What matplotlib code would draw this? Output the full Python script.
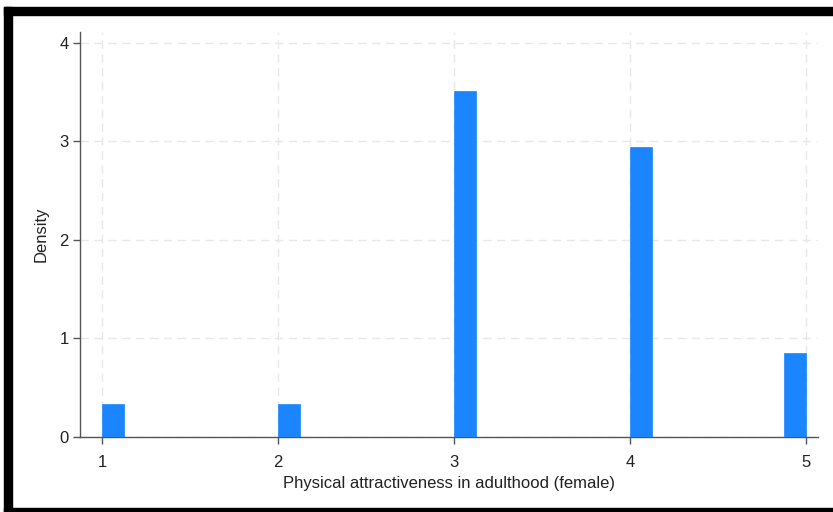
import numpy as np
import matplotlib.pyplot as plt
from matplotlib.patches import Rectangle

plt.rcParams['font.family'] = ['Liberation Sans', 'DejaVu Sans']

# Histogram bins (width 0.125) and their densities
bin_left = [1.0, 2.0, 3.0, 4.0, 4.875]
density = [0.335, 0.335, 3.51, 2.94, 0.85]
bin_width = 0.125

xticks = [1, 2, 3, 4, 5]
yticks = [0, 1, 2, 3, 4]

fig = plt.figure(figsize=(8.33, 5.12), dpi=100)
ax = fig.add_axes([80 / 833, (512 - 437) / 512, (818 - 80) / 833, (437 - 32) / 512])

ax.bar(bin_left, density, width=bin_width, align='edge', color='#1a85ff',
       edgecolor='#1a85ff', linewidth=0.5, zorder=3)

ax.set_xlim(0.875, 5.07)
ax.set_ylim(0, 4.11)
ax.set_xticks(xticks)
ax.set_yticks(yticks)
ax.grid(True, color='#e8e8e8', linestyle=(0, (6, 4)), linewidth=1, zorder=0)

for s in ['top', 'right']:
    ax.spines[s].set_visible(False)
for s in ['left', 'bottom']:
    ax.spines[s].set_color('#555555')
    ax.spines[s].set_linewidth(1)

ax.tick_params(axis='both', colors='#555555', labelcolor='#222222',
               labelsize=12, length=5, width=1)
ax.tick_params(axis='x', pad=8)
ax.tick_params(axis='y', pad=3)
ax.set_xlabel('Physical attractiveness in adulthood (female)', fontsize=12,
              color='#222222', labelpad=4)
ax.set_ylabel('Density', fontsize=12, color='#222222', labelpad=8)

# black frame around the graph window
W, H = 833, 512
def band(x0, y0, x1, y1):
    fig.patches.append(Rectangle((x0 / W, 1 - y1 / H), (x1 - x0) / W, (y1 - y0) / H,
                                 transform=fig.transFigure, color='black', zorder=10))

band(4, 7, W, 15)
band(4, 7, 12, H)
band(4, 508, W, H)

fig.savefig('out.png', dpi=100)
